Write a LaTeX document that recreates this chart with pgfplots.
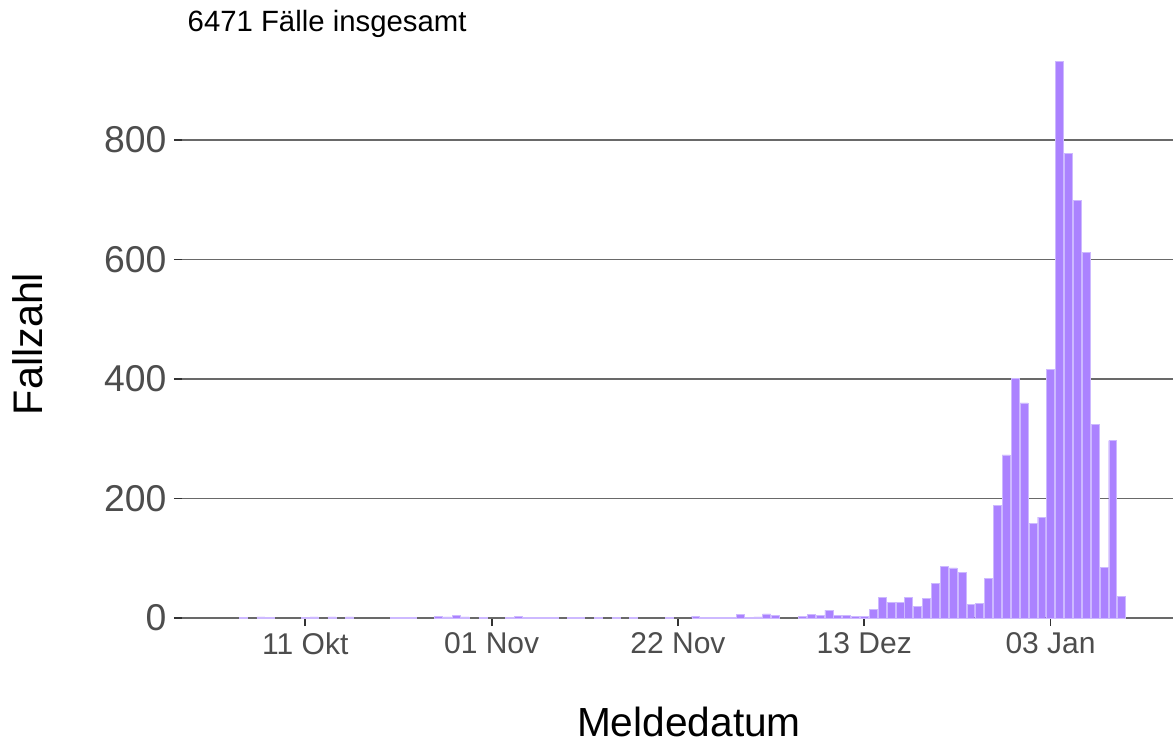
\documentclass[border=0pt]{standalone}
\usepackage{fontspec}
\setmainfont{Liberation Sans}
\usepackage{pgfplots}
\pgfplotsset{compat=1.18}
\definecolor{barfill}{RGB}{171,130,255}
\definecolor{baredge}{RGB}{205,185,255}
\definecolor{gridc}{RGB}{105,105,105}
\definecolor{tickc}{RGB}{77,77,77}
\definecolor{tickmark}{RGB}{51,51,51}
\begin{document}
\begin{tikzpicture}[x=1pt,y=1pt]
\useasboundingbox (-136.5,-94.5) rectangle (743.25,463.5);
\begin{axis}[
  at={(0,0)}, anchor=south west,
  scale only axis,
  width=743.25pt, height=430.2pt,
  xmin=-97.9, xmax=13.8, ymin=0, ymax=960,
  axis x line*=bottom, axis y line*=left,
  axis line style={-},
  x axis line style={draw=gridc, line width=1.4pt},
  y axis line style={draw=none},
  xtick={-84,-63,-42,-21,0},
  xticklabels={11 Okt,01 Nov,22 Nov,13 Dez,03 Jan},
  ytick={0,200,400,600,800},
  ymajorgrids,
  major grid style={draw=gridc, line width=1.4pt},
  tick align=outside,
  major tick length=6pt,
  xtick style={draw=tickmark, line width=1.3pt},
  ytick style={draw=tickmark, line width=1.3pt},
  /pgf/number format/assume math mode=true,
  yticklabel style={font=\fontsize{28}{30}\selectfont, text=tickc, inner sep=0pt, anchor=east, xshift=-5.5pt},
  xticklabel style={font=\fontsize{22.5}{26}\selectfont, text=tickc, inner sep=0pt, anchor=north, yshift=-4.5pt},
  clip=false,
]
\addplot[ybar, bar width=0.9, fill=barfill, draw=baredge, line width=0.3pt] coordinates {
(-91,1) (-89,2) (-88,1) (-84,1) (-83,2) (-81,2) (-79,2) (-74,1) (-73,1) (-72,1)
(-69,3) (-68,2) (-67,4) (-66,2) (-64,1) (-61,1) (-60,3) (-59,1) (-58,1) (-57,1)
(-56,1) (-54,1) (-53,1) (-51,1) (-49,1) (-47,1) (-43,1) (-40,3) (-39,1) (-38,1)
(-37,1) (-36,1) (-35,6) (-34,1) (-33,2) (-32,7) (-31,4) (-28,3) (-27,6) (-26,4)
(-25,13) (-24,4) (-23,5) (-22,3) (-21,3) (-20,14) (-19,35) (-18,26) (-17,26) (-16,35)
(-15,19) (-14,33) (-13,58) (-12,87) (-11,84) (-10,77) (-9,23) (-8,25) (-7,66) (-6,189)
(-5,273) (-4,401) (-3,360) (-2,158) (-1,169) (0,416) (1,932) (2,778) (3,699) (4,612)
(5,324) (6,85) (7,297) (8,36)
};
\end{axis}
\node[anchor=base west, font=\fontsize{22}{26}\selectfont] at (0.75,439.7) {6471 Fälle insgesamt};
\node[rotate=90, font=\fontsize{31}{36}\selectfont] at (-115.5,205.5) {Fallzahl};
\node[anchor=base, font=\fontsize{30.5}{36}\selectfont] at (380.25,-88.5) {Meldedatum};
\end{tikzpicture}
\end{document}
